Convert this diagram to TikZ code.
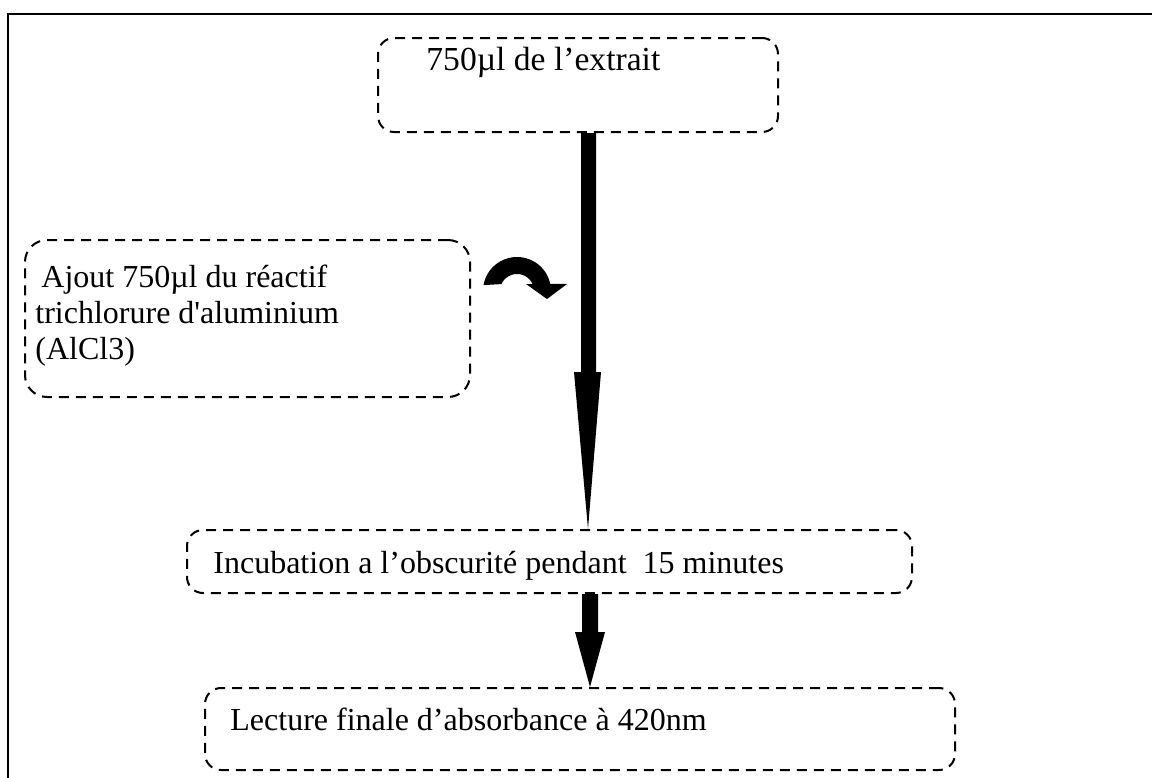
\documentclass[tikz,border=0pt]{standalone}
\usepackage{fontspec}
\setmainfont{Liberation Serif}[Ligatures=TeXOff]
\begin{document}
\begin{tikzpicture}[x=0.5pt,y=-0.5pt,
  dbox/.style={draw, line width=1pt, dash pattern=on 5pt off 3.5pt, rounded corners=8pt, inner sep=0pt},
  lbl/.style={anchor=base west, inner sep=0pt, font=\fontsize{16}{19}\selectfont},
  blk/.style={fill=black, draw=none}]
\useasboundingbox (0,0) rectangle (1152,777);
% outer frame
\draw[line width=1.3pt] (8,790) -- (8,14) -- (1160,14);
% boxes
\node[dbox, minimum width=200pt, minimum height=47pt] (b1) at (578,85) {};
\node[dbox, minimum width=222.5pt, minimum height=78.5pt, rounded corners=11pt] (b2) at (247.5,318.5) {};
\node[dbox, minimum width=362.5pt, minimum height=31.5pt] (b3) at (549.5,561.5) {};
\node[dbox, minimum width=375pt, minimum height=41pt] (b4) at (580,729) {};
% texts
\node[lbl, font=\fontsize{16.8}{19}\selectfont] (t1) at (426,70) {750µl de l’extrait};
\node[lbl] (t2a) at (33,287) {\ Ajout 750µl du réactif};
\node[lbl] (t2b) at (35,323) {trichlorure d'aluminium};
\node[lbl] (t2c) at (35,359) {(AlCl3)};
\node[lbl] (t3) at (213,573) {Incubation a l’obscurité pendant\ \ 15 minutes};
\node[lbl] (t4) at (230,730) {Lecture finale d’absorbance à 420nm};
% main arrow
\coordinate (a1s) at (b1.south -| 588.5,0);
\coordinate (a1t) at (b3.north -| 588,0);
\fill[blk] ([xshift=-3.75pt]a1s) -- ([xshift=3.75pt]a1s) -- (596,372) -- (601,372) -- (a1t) -- (574,372) -- (581,372) -- cycle;
% second arrow
\coordinate (a2s) at (b3.south -| 590,0);
\coordinate (a2t) at (b4.north -| 590,0);
\fill[blk] ([xshift=-4pt]a2s) -- ([xshift=4pt]a2s) -- (598,632) -- (605,632) -- (a2t) -- (575,632) -- (582,632) -- cycle;
% curved arrow
\fill[blk] plot[domain=170:12, samples=40] ({517+34*cos(\x)},{291-34*sin(\x)})
  -- (567,284) -- (547,299) -- (526,284) -- (532.5,284)
  -- plot[domain=24:156, samples=30] ({517+17*cos(\x)},{291-17*sin(\x)}) -- cycle;
\end{tikzpicture}
\end{document}
